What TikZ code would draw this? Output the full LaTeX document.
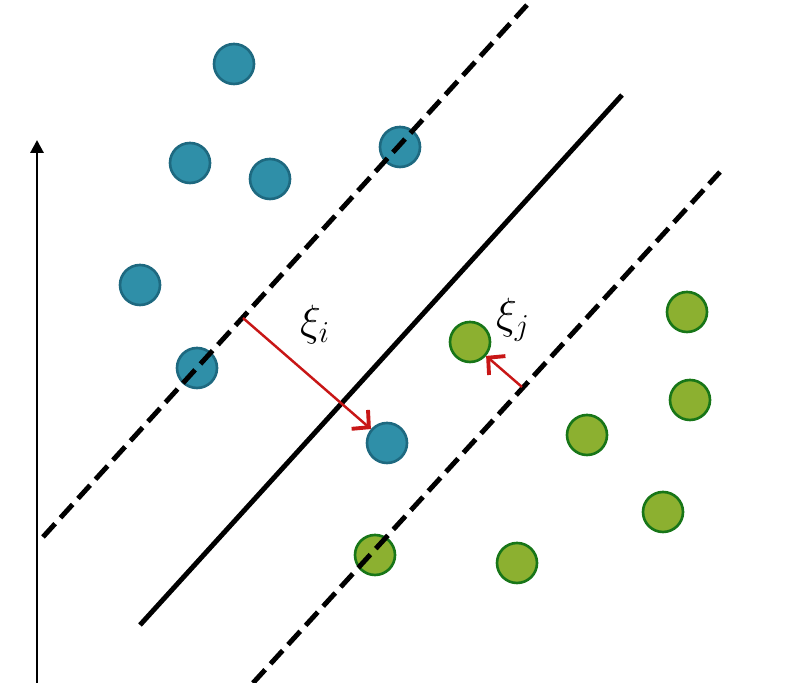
\documentclass[tikz,border=0pt]{standalone}
\usepackage{amsmath,amssymb}
\usetikzlibrary{arrows.meta}
\definecolor{ptblue}{RGB}{47,143,168}
\definecolor{ptblueline}{RGB}{30,105,128}
\definecolor{ptgreen}{RGB}{140,176,48}
\definecolor{ptgreenline}{RGB}{24,118,24}
\definecolor{slack}{RGB}{200,22,22}

\begin{document}
\begin{tikzpicture}[
	bluept/.style={circle,fill=ptblue,draw=ptblueline,line width=1.5pt,minimum size=0.8cm,inner sep=0pt},
	greenpt/.style={circle,fill=ptgreen,draw=ptgreenline,line width=1.5pt,minimum size=0.8cm,inner sep=0pt},
	margin/.style={line width=2.8pt,dash pattern=on 0.36cm off 0.16cm},
	slackarrow/.style={-{Straight Barb[length=0.24cm,width=0.5cm,line width=2.2pt]},slack,line width=1.4pt},
	slacklabel/.style={font=\fontsize{26}{30}\selectfont}
	]
			\useasboundingbox (0,0) rectangle (16.02,13.66);
			
			% Axis
			\coordinate (ybot) at (0.74,0);
			\coordinate (ytop) at (0.74,10.86);
			\draw[line width=1.7pt,-{Triangle[length=0.26cm,width=0.26cm]}] (ybot) -- (ytop);
			
			% Points
			% blue
			\node[bluept] (b1) at (4.68,12.38) {};
			\node[bluept] (b2) at (3.80,10.40) {};
			\node[bluept] (b3) at (5.40,10.08) {};
			\node[bluept] (b4) at (8.00,10.72) {};
			\node[bluept] (b5) at (2.80,7.96) {};
			\node[bluept] (b6) at (3.94,6.30) {};
			\node[bluept] (b7) at (7.74,4.80) {};
			% green
			\node[greenpt] (g1) at (9.40,6.82) {};
			\node[greenpt] (g2) at (13.74,7.42) {};
			\node[greenpt] (g3) at (13.80,5.66) {};
			\node[greenpt] (g4) at (11.74,4.96) {};
			\node[greenpt] (g5) at (13.26,3.42) {};
			\node[greenpt] (g6) at (7.50,2.56) {};
			\node[greenpt] (g7) at (10.34,2.40) {};
			
			% Lines
			\coordinate (up0) at (0.86,2.92);
			\coordinate (up1) at (10.54,13.56);
			\coordinate (mid0) at (2.80,1.16);
			\coordinate (mid1) at (12.44,11.76);
			\coordinate (lo0) at (5.06,0);
			\coordinate (lo1) at (14.40,10.22);
			\draw[margin] (up0) -- (up1);
			\draw[line width=2.8pt] (mid0) -- (mid1);
			\draw[margin] (lo0) -- (lo1);
			
			% Slacks
			\coordinate (ti) at (4.86,7.30);
			\coordinate (tj) at (10.44,5.92);
			\draw[slackarrow] (ti) -- (b7);
			\draw[slackarrow] (tj) -- (g1);
			\node[slacklabel] (xi) at (6.30,7.16) {$\xi_i$};
			\node[slacklabel] (xj) at (10.26,7.26) {$\xi_j$};
			
		\end{tikzpicture}
\end{document}
